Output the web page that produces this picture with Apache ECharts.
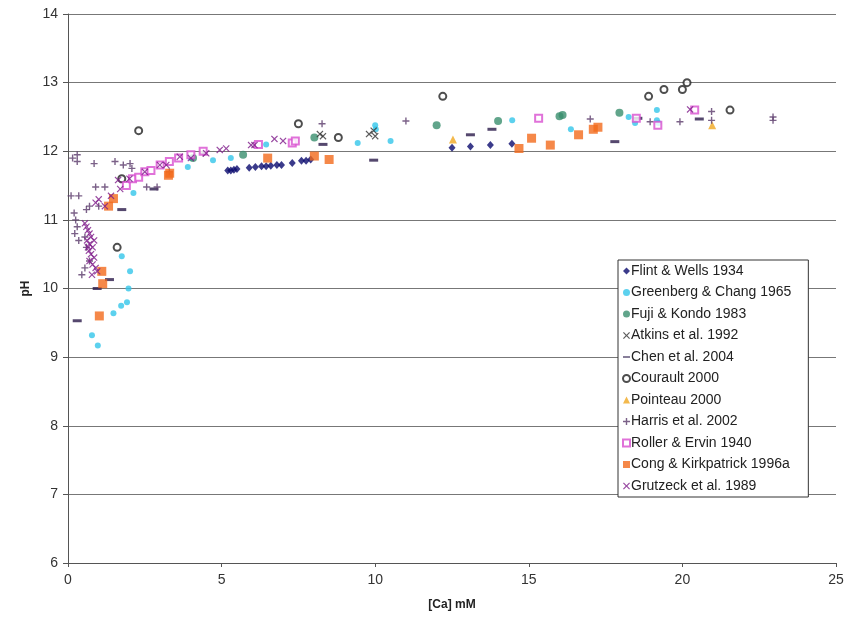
<!DOCTYPE html>
<html>
<head>
<meta charset="utf-8">
<script src="https://cdn.jsdelivr.net/npm/echarts@6/dist/echarts.min.js"></script>
<style>
  html, body { margin: 0; padding: 0; background: #fff; }
  #chart { width: 849px; height: 630px; }
</style>
</head>
<body>
<div id="chart"></div>
<script>
  // [Ca] mM, pH pairs
  var flintWells = [[5.2, 11.72], [5.3, 11.72], [5.4, 11.73], [5.5, 11.74], [5.9, 11.76], [6.1, 11.77], [6.3, 11.78],
    [6.45, 11.78], [6.6, 11.79], [6.8, 11.8], [6.95, 11.8], [7.3, 11.83], [7.6, 11.86], [7.75, 11.86], [7.9, 11.88],
    [12.5, 12.05], [13.1, 12.07], [13.75, 12.09], [14.45, 12.11]]
  var greenbergChang = [[0.78, 9.32], [0.97, 9.17], [1.48, 9.64], [1.73, 9.75], [1.92, 9.8], [1.97, 10.0], [2.02, 10.25],
    [1.75, 10.47], [2.13, 11.39], [3.9, 11.77], [4.0, 11.9], [4.72, 11.87], [5.3, 11.9], [6.45, 12.1], [9.43, 12.12],
    [10.0, 12.38], [10.02, 12.32], [10.5, 12.15], [14.46, 12.45], [16.37, 12.32], [18.25, 12.5], [18.46, 12.41],
    [19.17, 12.6], [19.17, 12.45], [19.22, 12.41]]
  var fujiKondo = [[4.07, 11.9], [5.7, 11.95], [8.02, 12.2], [12.0, 12.38], [14.0, 12.44], [16.0, 12.51], [16.1, 12.53], [17.95, 12.56]]
  var atkins = [[8.2, 12.25], [8.3, 12.22], [9.8, 12.25], [9.95, 12.3], [10.0, 12.22]]
  var chen = [[0.3, 9.53], [0.95, 10.0], [1.35, 10.13], [1.75, 11.15], [2.8, 11.45], [8.3, 12.1], [9.95, 11.87],
    [13.1, 12.24], [13.8, 12.32], [17.8, 12.14], [18.55, 12.48], [20.55, 12.47]]
  var courault = [[1.6, 10.6], [1.75, 11.6], [2.3, 12.3], [7.5, 12.4], [8.8, 12.2], [12.2, 12.8], [18.9, 12.8],
    [19.4, 12.9], [20.0, 12.9], [20.15, 13.0], [21.55, 12.6]]
  var pointeau = [[12.53, 12.17], [20.97, 12.38]]
  var harris = [[0.1, 11.35], [0.15, 11.9], [0.3, 11.95], [0.3, 11.85], [0.35, 11.35], [0.2, 11.1], [0.25, 11.0],
    [0.3, 10.9], [0.22, 10.8], [0.35, 10.7], [0.45, 10.2], [0.55, 10.3], [0.6, 11.15], [0.7, 11.2], [0.85, 11.82],
    [0.9, 11.48], [1.0, 11.2], [1.2, 11.48], [1.53, 11.85], [1.8, 11.8], [2.02, 11.82], [2.08, 11.75], [2.56, 11.48],
    [2.9, 11.48], [0.6, 10.6], [0.7, 10.4], [0.55, 10.75], [3.3, 11.7], [4.4, 11.97], [8.27, 12.4], [11.0, 12.44],
    [17.0, 12.47], [18.95, 12.43], [19.92, 12.43], [20.95, 12.58], [20.95, 12.45], [22.95, 12.5], [22.95, 12.45]]
  var rollerErvin = [[1.9, 11.5], [2.1, 11.6], [2.3, 11.62], [2.5, 11.7], [2.7, 11.72], [3.0, 11.8], [3.3, 11.85],
    [3.6, 11.9], [4.0, 11.95], [4.4, 12.0], [6.2, 12.1], [7.3, 12.12], [7.4, 12.15], [15.32, 12.48], [18.5, 12.48],
    [19.2, 12.38], [20.4, 12.6]]
  var congKirk = [[1.02, 9.6], [1.1, 10.25], [1.13, 10.07], [1.32, 11.2], [1.48, 11.31], [3.27, 11.65], [3.31, 11.68],
    [6.5, 11.9], [8.02, 11.93], [8.5, 11.88], [14.68, 12.04], [15.09, 12.19], [15.7, 12.09], [16.62, 12.24],
    [17.1, 12.32], [17.25, 12.35]]
  var grutzeck = [[0.55, 10.95], [0.6, 10.9], [0.65, 10.85], [0.7, 10.8], [0.75, 10.75], [0.62, 10.7], [0.7, 10.65],
    [0.8, 10.6], [0.68, 10.55], [0.75, 10.5], [0.85, 10.45], [0.7, 10.4], [0.8, 10.35], [0.9, 10.3], [0.95, 10.25],
    [0.78, 10.2], [0.65, 10.6], [0.85, 10.7], [0.9, 11.25], [1.0, 11.3], [1.2, 11.2], [1.4, 11.35], [1.63, 11.58],
    [1.7, 11.45], [2.0, 11.6], [2.5, 11.7], [2.99, 11.8], [3.2, 11.8], [3.64, 11.92], [4.0, 11.9], [4.5, 11.97],
    [4.94, 12.02], [5.15, 12.04], [5.96, 12.09], [6.07, 12.09], [6.72, 12.18], [7.0, 12.15], [20.25, 12.61]]

  var plusPath = 'path://M4,0H6V4H10V6H6V10H4V6H0V4H4Z'
  var crossPath = 'path://M1.2,0L5,3.8L8.8,0L10,1.2L6.2,5L10,8.8L8.8,10L5,6.2L1.2,10L0,8.8L3.8,5L0,1.2Z'
  var dashPath = 'path://M0,0H10V2H0Z'

  function sc (name, data, symbol, size, color, extra) {
    var s = {
      name: name,
      type: 'scatter',
      data: data,
      symbol: symbol,
      symbolSize: size,
      itemStyle: { color: color },
    }
    return Object.assign(s, extra || {})
  }

  var series = [
    sc('Flint & Wells 1934', flintWells, 'diamond', [7, 8], '#0a0a6e'),
    sc('Greenberg & Chang 1965', greenbergChang, 'circle', 6, '#33c6ea'),
    sc('Fuji & Kondo 1983', fujiKondo, 'circle', 8, '#3a8f6e'),
    sc('Atkins et al. 1992', atkins, crossPath, 7, '#333'),
    sc('Chen et al. 2004', chen, dashPath, [9, 3], '#2a1a4a'),
    sc('Courault 2000', courault, 'emptyCircle', 7, '#222', { itemStyle: { color: '#222', borderWidth: 1.5 } }),
    sc('Pointeau 2000', pointeau, 'triangle', 8, '#f0a820'),
    sc('Harris et al. 2002', harris, plusPath, 7, '#5a3a6a'),
    sc('Roller & Ervin 1940', rollerErvin, 'emptyRect', 7, '#d84fd0', { itemStyle: { color: '#d84fd0', borderWidth: 1.5 } }),
    sc('Cong & Kirkpatrick 1996a', congKirk, 'rect', 9, '#f26a1b'),
    sc('Grutzeck et al. 1989', grutzeck, crossPath, 7, '#7e1a8a'),
  ]

  var chart = echarts.init(document.getElementById('chart'))
  chart.setOption({
    animation: false,
    textStyle: { fontFamily: 'Liberation Sans, Arial, sans-serif' },
    grid: { left: 68, right: 13, top: 14, bottom: 67 },
    legend: {
      orient: 'vertical',
      left: 618,
      top: 260,
      backgroundColor: '#fff',
      borderColor: '#333',
      borderWidth: 1,
      borderRadius: 0,
      padding: [4, 17, 4, 4],
      itemGap: 7.5,
      itemWidth: 7,
      itemHeight: 7,
      symbolKeepAspect: true,
      data: series.map(function (s) { return { name: s.name } }),
      textStyle: { fontSize: 14, color: '#222', lineHeight: 14, padding: [0, 0, 0, -4] },
    },
    xAxis: {
      type: 'value',
      min: 0,
      max: 25,
      interval: 5,
      name: '[Ca] mM',
      nameLocation: 'middle',
      nameGap: 36,
      nameTextStyle: { fontSize: 12, fontWeight: 'bold', color: '#222' },
      axisLine: { lineStyle: { color: '#555' } },
      axisTick: { length: 4, lineStyle: { color: '#555' } },
      axisLabel: { fontSize: 14, color: '#333', margin: 10 },
      splitLine: { show: false },
    },
    yAxis: {
      type: 'value',
      min: 6,
      max: 14,
      interval: 1,
      name: 'pH',
      nameLocation: 'middle',
      nameGap: 26,
      nameTextStyle: { fontSize: 12, fontWeight: 'bold', color: '#222' },
      axisLine: { show: true, lineStyle: { color: '#555' } },
      axisTick: { show: true, length: 5, lineStyle: { color: '#555' } },
      axisLabel: { fontSize: 14, color: '#333', margin: 10 },
      splitLine: { lineStyle: { color: '#777', width: 1 } },
    },
    series: series,
  })
</script>
</body>
</html>
